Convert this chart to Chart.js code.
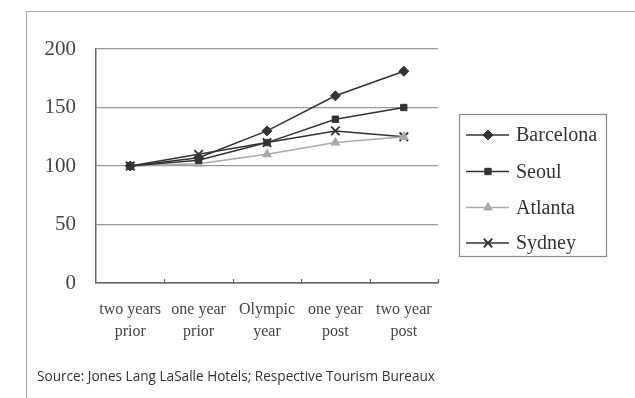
<!DOCTYPE html>
<html>
<head>
<meta charset="utf-8">
<script src="https://cdn.jsdelivr.net/npm/chart.js@4/dist/chart.umd.min.js"></script>
<style>
  html, body { margin: 0; padding: 0; background: #fff; }
  #wrap { position: relative; width: 635px; height: 398px; overflow: hidden; }
  #frame { position: absolute; left: 26px; top: 11px; width: 700px; height: 500px;
           border-left: 1.5px solid #a8a8a8; border-top: 1.5px solid #a8a8a8; }
  #chart { position: absolute; left: 0; top: 0; }
  #source { position: absolute; left: 37px; top: 366px; font-family: "Open Sans", sans-serif;
            font-size: 13.6px; color: #333; white-space: nowrap; }
</style>
</head>
<body>
<div id="wrap">
  <div id="frame"></div>
  <canvas id="chart" width="635" height="398"></canvas>
  <div id="source">Source: Jones Lang LaSalle Hotels; Respective Tourism Bureaux</div>
</div>
<script>
// Hotel performance index around the Olympic year (two years prior = 100)
const categories = [
  ['two years', 'prior'],
  ['one year', 'prior'],
  ['Olympic', 'year'],
  ['one year', 'post'],
  ['two year', 'post']
];
const barcelona = [100, 107, 130, 160, 181];
const seoul     = [100, 105, 120, 140, 150];
const atlanta   = [100, 102, 110, 120, 125];
const sydney    = [100, 110, 120, 130, 125];
const yTicks    = [0, 50, 100, 150, 200];

const serif = '"Liberation Serif", "Times New Roman", serif';

function series(label, data, color, pointStyle, radius) {
  return {
    label, data,
    borderColor: color,
    backgroundColor: color,
    borderWidth: 1.5,
    pointStyle,
    pointRadius: radius,
    pointHoverRadius: radius,
    pointBorderColor: color,
    pointBackgroundColor: color,
    pointBorderWidth: pointStyle === 'crossRot' ? 1.8 : 1,
    tension: 0
  };
}

// Small inward tick marks on the category axis, between categories
const innerTicks = {
  id: 'innerTicks',
  afterDraw(chart) {
    const x = chart.scales.x, ctx = chart.ctx, bottom = chart.chartArea.bottom;
    ctx.save();
    ctx.strokeStyle = '#666';
    ctx.lineWidth = 1.2;
    for (let i = 1; i <= categories.length; i++) {
      const px = Math.round(x.getPixelForValue(i - 0.5)) + 0.5;
      ctx.beginPath();
      ctx.moveTo(px, bottom);
      ctx.lineTo(px, bottom - 4);
      ctx.stroke();
    }
    ctx.restore();
  }
};

// Boxed legend on the right: a line sample with the series marker, then the name
const boxLegend = {
  id: 'boxLegend',
  afterDraw(chart) {
    const ctx = chart.ctx;
    const box = { x: 459, y: 114, w: 147, h: 142 };
    ctx.save();
    ctx.strokeStyle = '#8a8a8a';
    ctx.lineWidth = 1.2;
    ctx.strokeRect(box.x + 0.5, box.y + 0.5, box.w, box.h);
    const rowY = [135, 171.5, 207.5, 243];
    chart.data.datasets.forEach((ds, i) => {
      const y = rowY[i];
      ctx.strokeStyle = ds.borderColor;
      ctx.lineWidth = 1.5;
      ctx.beginPath();
      ctx.moveTo(466, y);
      ctx.lineTo(509, y);
      ctx.stroke();
      ctx.fillStyle = ds.pointBackgroundColor;
      ctx.strokeStyle = ds.pointBorderColor;
      ctx.lineWidth = ds.pointBorderWidth;
      Chart.helpers.drawPoint(ctx, { pointStyle: ds.pointStyle, radius: ds.pointRadius, borderWidth: ds.pointBorderWidth, rotation: 0 }, 488, y);
      ctx.fillStyle = '#333';
      ctx.font = '20px ' + serif;
      ctx.textBaseline = 'middle';
      ctx.textAlign = 'left';
      ctx.fillText(ds.label, 516, y + 1);
    });
    ctx.restore();
  }
};

new Chart(document.getElementById('chart'), {
  type: 'line',
  data: {
    labels: categories,
    datasets: [
      series('Barcelona', barcelona, '#333333', 'rectRot', 5),
      series('Seoul', seoul, '#333333', 'rect', 4.5),
      series('Atlanta', atlanta, '#aaaaaa', 'triangle', 5),
      series('Sydney', sydney, '#333333', 'crossRot', 6)
    ]
  },
  options: {
    responsive: false,
    animation: false,
    layout: { padding: { top: 49, right: 197, bottom: 0, left: 0 } },
    plugins: { legend: { display: false }, tooltip: { enabled: false } },
    scales: {
      x: {
        offset: true,
        grid: { display: false },
        border: { display: true, color: '#666', width: 1.5 },
        ticks: {
          color: '#444',
          font: { family: serif, size: 16, lineHeight: 1.375 },
          padding: 8,
          maxRotation: 0,
          autoSkip: false
        },
        afterFit(scale) { scale.height = 115; }
      },
      y: {
        min: 0, max: 200,
        afterBuildTicks(scale) { scale.ticks = yTicks.map(v => ({ value: v })); },
        grid: {
          drawTicks: false,
          color: ctx => ctx.tick && ctx.tick.value === 0 ? '#666' : '#999',
          lineWidth: 1.3
        },
        border: { display: true, color: '#666', width: 1.5 },
        ticks: {
          color: '#444',
          font: { family: serif, size: 21 },
          padding: 20
        },
        afterFit(scale) { scale.width = 96; }
      }
    }
  },
  plugins: [innerTicks, boxLegend]
});
</script>
</body>
</html>
